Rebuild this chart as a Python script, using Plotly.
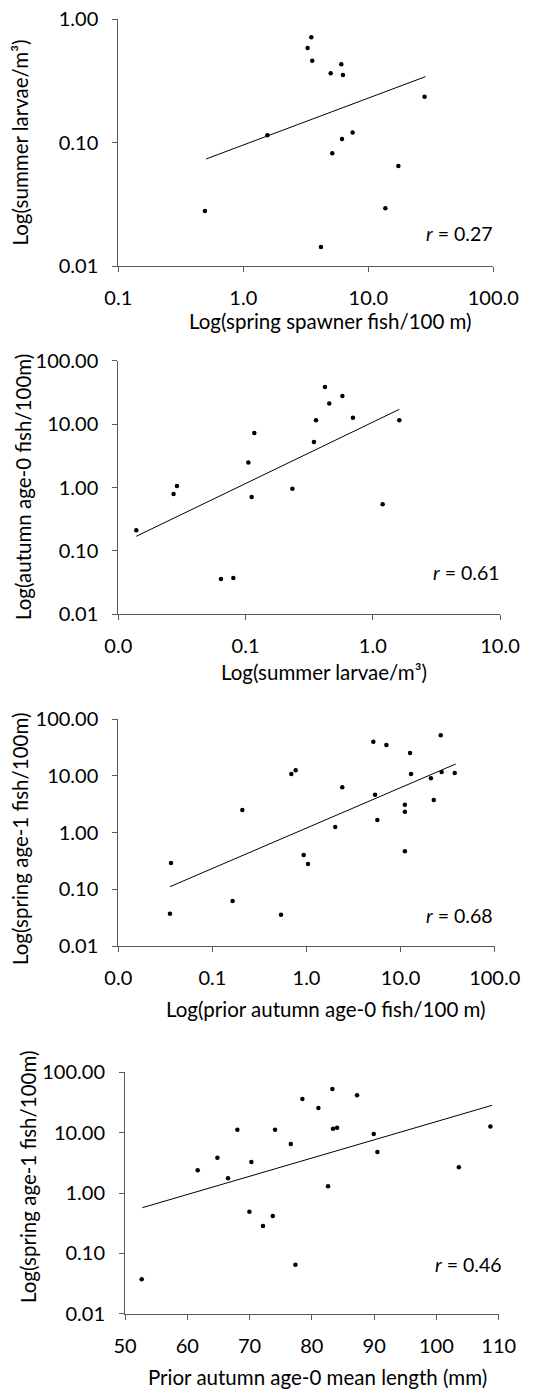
import plotly.graph_objects as go

W, H = 535, 1389

# ---------------- data ----------------
# Panel 1: spring spawner fish/100 m vs summer larvae/m3
p1_x = [0.493, 1.56, 3.27, 3.50, 3.56, 5.0, 6.08, 6.27, 5.15, 6.16, 7.49, 4.18, 13.7, 17.4, 28.2]
p1_y = [0.0279, 0.1147, 0.586, 0.715, 0.462, 0.365, 0.432, 0.354, 0.082, 0.107, 0.1206, 0.01426, 0.0294, 0.0647, 0.236]
p1_fit_x = [0.503, 28.7]
p1_fit_y = [0.0737, 0.343]
p1_r = "0.27"

# Panel 2: summer larvae/m3 vs autumn age-0 fish/100 m
p2_x = [0.01384, 0.0272, 0.0289, 0.0641, 0.0802, 0.1052, 0.1117, 0.1172, 0.2335, 0.345,
        0.358, 0.421, 0.455, 0.577, 0.698, 1.196, 1.617]
p2_y = [0.211, 0.790, 1.057, 0.0361, 0.0374, 2.47, 0.708, 7.23, 0.959, 5.22,
        11.45, 38.4, 21.2, 27.7, 12.6, 0.543, 11.45]
p2_fit_x = [0.01384, 1.617]
p2_fit_y = [0.170, 17.1]
p2_r = "0.61"

# Panel 3: prior autumn age-0 fish/100 m vs spring age-1 fish/100 m
p3_x = [0.0363, 0.0354, 0.164, 0.208, 0.536, 0.690, 0.767, 0.933, 1.037, 2.02, 2.40, 5.13,
        5.35, 5.66, 7.06, 11.1, 11.1, 11.1, 12.6, 12.9, 21.0, 22.5, 26.7, 27.3, 37.6]
p3_y = [0.290, 0.0371, 0.0621, 2.49, 0.0357, 10.7, 12.5, 0.402, 0.279, 1.25, 6.25, 39.9,
        4.64, 1.66, 34.8, 3.09, 2.33, 0.466, 25.2, 10.7, 9.0, 3.74, 51.6, 11.6, 11.2]
p3_fit_x = [0.0354, 38.5]
p3_fit_y = [0.111, 16.1]
p3_r = "0.68"

# Panel 4: prior autumn age-0 mean length (mm) vs spring age-1 fish/100 m
p4_x = [52.68, 61.67, 64.83, 66.54, 68.04, 69.97, 70.29, 72.16, 73.72, 74.09, 76.61, 77.36,
        78.48, 81.05, 82.60, 83.30, 83.40, 84.05, 87.26, 89.94, 90.52, 103.6, 108.67]
p4_y = [0.0371, 2.38, 3.85, 1.75, 11.2, 0.491, 3.26, 0.284, 0.416, 11.2, 6.49, 0.0649,
        36.1, 25.6, 1.29, 52.9, 11.6, 12.1, 41.6, 9.5, 4.78, 2.66, 12.7]
p4_fit_x = [52.78, 108.94]
p4_fit_y = [0.571, 28.4]
p4_r = "0.46"

x_titles = ["Log(spring spawner fish/100 m)", "Log(summer larvae/m³)",
            "Log(prior autumn age-0 fish/100 m)", "Prior autumn age-0 mean length (mm)"]
y_titles = ["Log(summer larvae/m³)", "Log(autumn age-0 fish/100m)",
            "Log(spring age-1 fish/100m)", "Log(spring age-1 fish/100m)"]

p1_xticks = [0.1, 1, 10, 100]
p1_yticks = [0.01, 0.1, 1]
p2_xticks = [0.01, 0.1, 1, 10]
p34_yticks = [0.01, 0.1, 1, 10, 100]
p3_xticks = [0.01, 0.1, 1, 10, 100]
p4_xticks = [50, 60, 70, 80, 90, 100, 110]

# ---------------- layout geometry (pixels) ----------------
FONT = "Lato, 'Open Sans', sans-serif"
TICKF = 20
TITLEF = 20.5
RF = 19.5
AX = "#5a5a5a"

panels = [
    dict(xs=p1_x, ys=p1_y, fx=p1_fit_x, fy=p1_fit_y, r=p1_r,
         px=(118.3, 493.3), py=(19.3, 266.0), xtype="log", xr=[-1, 2], yr=[-2, 0],
         xt=p1_xticks, xfmt="{:.1f}", yt=p1_yticks,
         xtitle_y=321, xtitle_x=330, ytitle_x=19.5, ytitle_y=143, r_xy=(495, 233)),
    dict(xs=p2_x, ys=p2_y, fx=p2_fit_x, fy=p2_fit_y, r=p2_r,
         px=(118.3, 500.0), py=(360.7, 614.3), xtype="log", xr=[-2, 1], yr=[-2, 2],
         xt=p2_xticks, xfmt="{:.1f}", yt=p34_yticks,
         xtitle_y=672, xtitle_x=324, ytitle_x=23, ytitle_y=487, r_xy=(502, 572)),
    dict(xs=p3_x, ys=p3_y, fx=p3_fit_x, fy=p3_fit_y, r=p3_r,
         px=(118.3, 494.7), py=(719.0, 946.0), xtype="log", xr=[-2, 2], yr=[-2, 2],
         xt=p3_xticks, xfmt="{:.1f}", yt=p34_yticks,
         xtitle_y=1009, xtitle_x=326, ytitle_x=20, ytitle_y=839, r_xy=(495, 915)),
    dict(xs=p4_x, ys=p4_y, fx=p4_fit_x, fy=p4_fit_y, r=p4_r,
         px=(125.0, 498.7), py=(1072.3, 1313.7), xtype="linear", xr=[50, 110], yr=[-2, 2],
         xt=p4_xticks, xfmt="{:.0f}", yt=p34_yticks,
         xtitle_y=1377, xtitle_x=317.5, ytitle_x=28, ytitle_y=1177, r_xy=(504, 1264)),
]

fig = go.Figure()
annotations = []
layout = dict(width=W, height=H, margin=dict(l=0, r=0, t=0, b=0, autoexpand=False),
              paper_bgcolor="white", plot_bgcolor="white", showlegend=False,
              font=dict(family=FONT, color="black", size=TICKF))

for i, p in enumerate(panels, start=1):
    xa = "x" if i == 1 else f"x{i}"
    ya = "y" if i == 1 else f"y{i}"
    fig.add_trace(go.Scatter(x=p["fx"], y=p["fy"], mode="lines",
                             line=dict(color="black", width=1), xaxis=xa, yaxis=ya,
                             hoverinfo="skip"))
    fig.add_trace(go.Scatter(x=p["xs"], y=p["ys"], mode="markers",
                             marker=dict(color="black", size=4.5), xaxis=xa, yaxis=ya))
    xkey = "xaxis" if i == 1 else f"xaxis{i}"
    ykey = "yaxis" if i == 1 else f"yaxis{i}"
    common = dict(showline=True, linecolor=AX, linewidth=1, ticks="outside", ticklen=5,
                  tickcolor=AX, tickwidth=1, showgrid=False, zeroline=False, mirror=False,
                  automargin=False,
                  tickfont=dict(family=FONT, size=TICKF, color="black"))
    layout[xkey] = dict(common, type=p["xtype"], range=p["xr"],
                        domain=[p["px"][0] / W, p["px"][1] / W], anchor=ya,
                        tickvals=p["xt"], ticktext=[p["xfmt"].format(v) for v in p["xt"]],
                        ticklabelstandoff=9)
    layout[ykey] = dict(common, type="log", range=p["yr"],
                        domain=[1 - p["py"][1] / H, 1 - p["py"][0] / H], anchor=xa,
                        tickvals=p["yt"], ticktext=["{:.2f}".format(v) for v in p["yt"]],
                        ticklabelstandoff=10)
    annotations.append(dict(text=x_titles[i - 1], x=p["xtitle_x"] / W, y=1 - p["xtitle_y"] / H,
                            xref="paper", yref="paper", showarrow=False,
                            xanchor="center", yanchor="middle",
                            font=dict(family=FONT, size=TITLEF, color="black")))
    annotations.append(dict(text=y_titles[i - 1], x=p["ytitle_x"] / W, y=1 - p["ytitle_y"] / H,
                            xref="paper", yref="paper", showarrow=False, textangle=-90,
                            xanchor="center", yanchor="middle",
                            font=dict(family=FONT, size=TITLEF, color="black")))
    annotations.append(dict(text="<i>r</i> = " + p["r"], x=p["r_xy"][0] / W, y=1 - p["r_xy"][1] / H,
                            xref="paper", yref="paper", showarrow=False,
                            xanchor="right", yanchor="middle",
                            font=dict(family=FONT, size=RF, color="black")))

layout["annotations"] = annotations
fig.update_layout(**layout)
fig.write_html("out.html", config={"displayModeBar": False},
               post_script="document.body.style.margin='0';document.body.style.overflow='hidden';")
